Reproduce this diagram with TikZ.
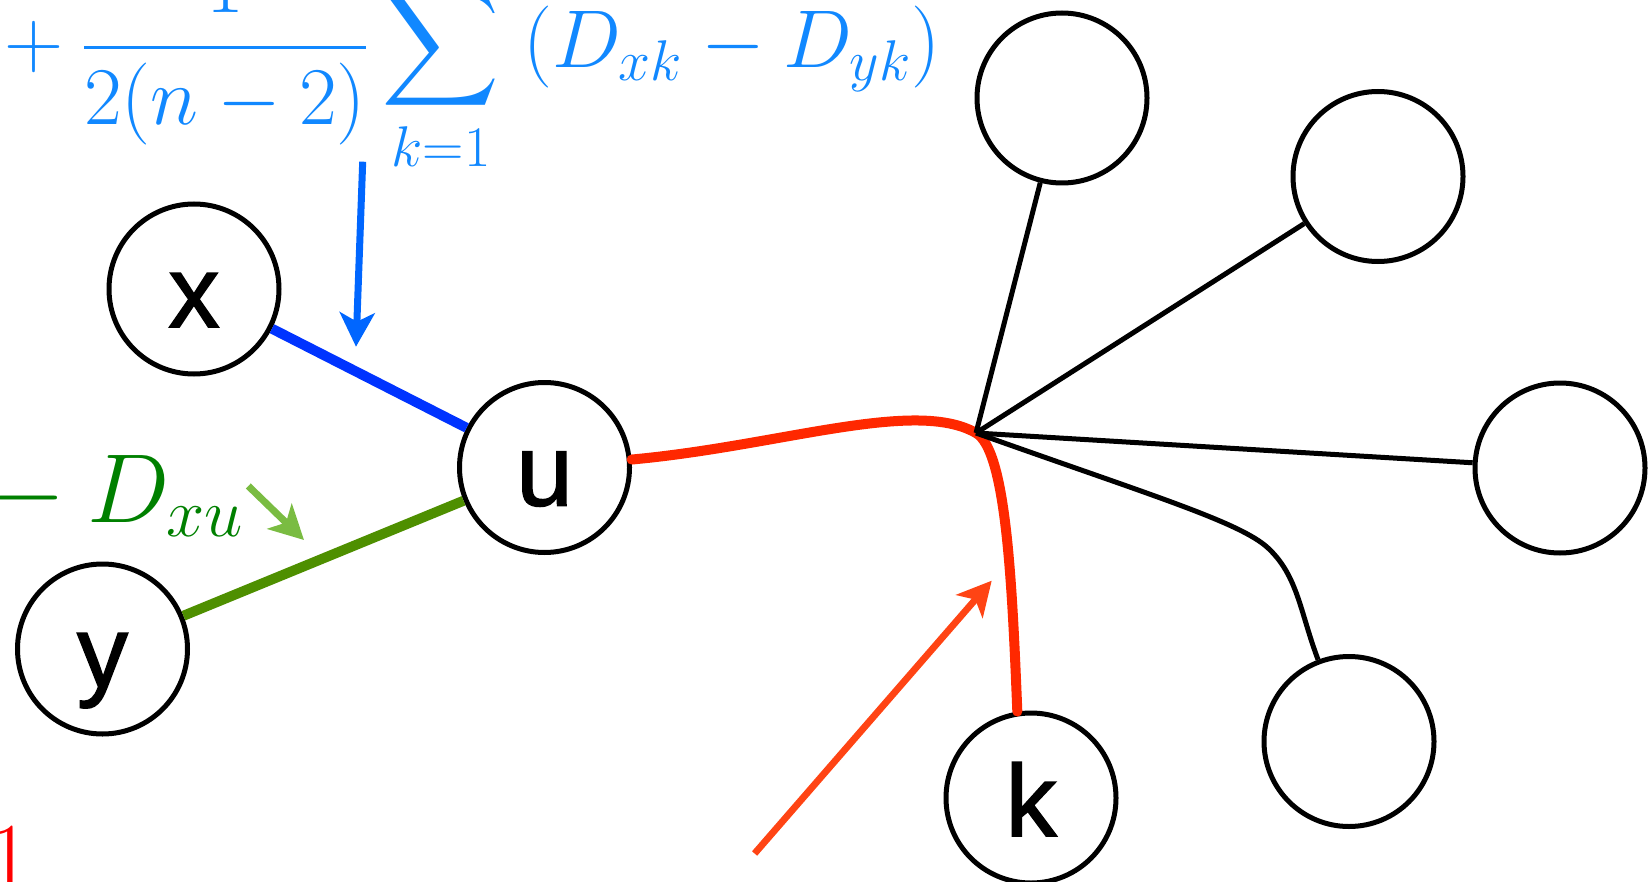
\RequirePackage{fix-cm}
\documentclass[tikz,border=0pt]{standalone}
\usepackage{amsmath}
\DeclareFontFamily{OMX}{cmex}{}
\DeclareFontShape{OMX}{cmex}{m}{n}{<->cmex10}{}
\usepackage{fontspec}
\newfontfamily\nodefont{Liberation Sans}[BoldFont={Liberation Sans}, BoldFeatures={FakeBold=1.5}]
\usetikzlibrary{arrows.meta}

\definecolor{fblue}{RGB}{17,136,255}
\definecolor{eblue}{RGB}{0,51,255}
\definecolor{ablue}{RGB}{0,102,255}
\definecolor{fgreen}{RGB}{0,128,0}
\definecolor{egreen}{RGB}{78,143,0}
\definecolor{agreen}{RGB}{122,188,66}
\definecolor{ered}{RGB}{255,40,0}
\definecolor{ared}{RGB}{255,68,20}

\begin{document}
\begin{tikzpicture}[x=0.5pt, y=-0.5pt, >={Stealth[length=17pt, width=17.5pt, inset=4.5pt]},
		vert/.style={draw, circle, line width=2.5pt, minimum size=85pt, inner sep=0pt, fill=white,
			font=\nodefont\bfseries\fontsize{51pt}{51pt}\selectfont, text height=38pt, text depth=0pt},
		edge/.style={line width=2.5pt},
		formula/.style={anchor=base west, inner sep=0pt}]
				\useasboundingbox (0,0) rectangle (1648,882);
				\clip (0,0) rectangle (1648,882);
				
				\node[formula, text=fblue, font=\fontsize{41pt}{49pt}\selectfont] (sumtext) at (-14, 68) {$\displaystyle {}+\frac{1}{2(n-2)}\sum_{k=1}\;(D_{xk}-D_{yk})$};
				\node[formula, text=fgreen, font=\fontsize{49pt}{59pt}\selectfont] (dxu) at (-33, 522) {${}-D_{xu}$};
				\node[formula, text=red, font=\fontsize{48pt}{58pt}\selectfont] (one) at (-13, 889) {$1$};
				
				\node[vert] (x) at (194, 289) {x};
				\node[vert] (y) at (102.5, 649) {y};
				\node[vert] (u) at (544.5, 467.5) {u};
				\node[vert] (k) at (1031, 798) {k};
				\node[vert] (t1) at (1062, 98) {};
				\node[vert] (t2) at (1378, 176.5) {};
				\node[vert] (t3) at (1560, 468) {};
				\node[vert] (t4) at (1349, 741.5) {};
				\coordinate (hub) at (976, 433);
				
				\draw[eblue, line width=5pt] (x) -- (u);
				\draw[egreen, line width=5pt] (y) -- (u);
				\draw[ered, line width=5pt, line cap=round] (u) .. controls (780, 446) and (915, 398) .. (hub)
					.. controls (1006, 450) and (1012, 580) .. (k.99);
				
				\draw[edge] (hub) -- (t1);
				\draw[edge] (hub) -- (t2);
				\draw[edge] (hub) -- (t3);
				\draw[edge] (hub) .. controls (1150, 495) and (1240, 522) .. (1268, 548)
					.. controls (1298, 576) and (1300, 612) .. (t4);
				
				\coordinate (bluetail) at (362.7, 161.7);
				\coordinate (bluetip) at (356, 346.7);
				\coordinate (greentail) at (248.3, 486);
				\coordinate (greentip) at (304, 540);
				\coordinate (redtail) at (754.6, 853.5);
				\coordinate (redtip) at (991.7, 580.7);
				\draw[->, ablue, line width=3.5pt] (bluetail) -- (bluetip);
				\draw[->, agreen, line width=3.5pt] (greentail) -- (greentip);
				\draw[->, ared, line width=3.4pt] (redtail) -- (redtip);
			\end{tikzpicture}
\end{document}
